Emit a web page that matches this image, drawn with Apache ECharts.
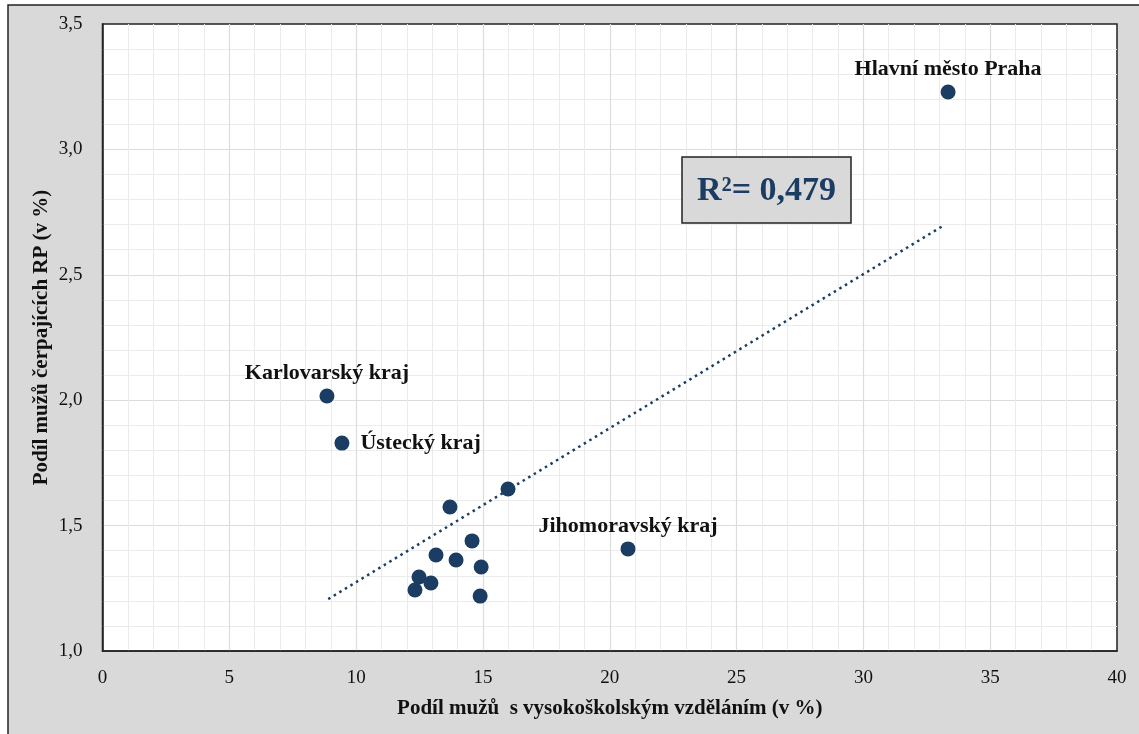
<!DOCTYPE html>
<html>
<head>
<meta charset="utf-8">
<script src="https://cdn.jsdelivr.net/npm/echarts@6/dist/echarts.min.js"></script>
<style>
  html, body { margin: 0; padding: 0; background: #fff; }
  #chart { width: 1139px; height: 734px; }
</style>
</head>
<body>
<div id="chart"></div>
<script>
// podíl mužů s VŠ vzděláním (x) a podíl mužů čerpajících RP (y) podle krajů
const regionNames = ['Hlavní město Praha', 'Karlovarský kraj', 'Ústecký kraj', '', '', '', 'Jihomoravský kraj', '', '', '', '', '', '', '']
const shareUni = [33.34, 8.85, 9.44, 15.99, 13.70, 14.57, 20.72, 13.15, 13.94, 14.93, 12.48, 12.95, 12.32, 14.89]
const shareRP = [3.229, 2.017, 1.829, 1.646, 1.574, 1.439, 1.407, 1.383, 1.363, 1.335, 1.295, 1.271, 1.243, 1.219]
const labelPos = ['top', 'top', 'right', '', '', '', 'top', '', '', '', '', '', '', '']
// lineární trend (konce čáry)
const trendX = [8.9, 33.2]
const trendY = [1.207, 2.699]
const rSquared = '0,479'

const serif = '"Liberation Serif", "DejaVu Serif", serif'
const navy = '#1b3c63'

const pointData = shareUni.map((x, i) => ({
  value: [x, shareRP[i]],
  label: {
    show: regionNames[i] !== '',
    formatter: regionNames[i],
    position: labelPos[i] || 'top',
    distance: labelPos[i] === 'right' ? 11 : 4
  }
}))

const chart = echarts.init(document.getElementById('chart'))
chart.setOption({
  animation: false,
  graphic: [
    {
      type: 'rect',
      z: -10,
      shape: { x: 8, y: 5, width: 1140, height: 740 },
      style: { fill: '#d9d9d9', stroke: '#222', lineWidth: 1.5 }
    },
    {
      type: 'rect',
      z: 100,
      shape: { x: 682, y: 157, width: 169, height: 66 },
      style: { fill: '#d9d9d9', stroke: '#222', lineWidth: 1.5 }
    },
    {
      type: 'text',
      z: 101,
      x: 766.5,
      y: 191,
      style: {
        text: 'R²= ' + rSquared,
        align: 'center',
        verticalAlign: 'middle',
        font: 'bold 34px ' + serif,
        fill: navy
      }
    }
  ],
  grid: {
    left: 102.5,
    right: 22,
    top: 24,
    bottom: 83,
    show: true,
    backgroundColor: '#fff',
    borderColor: '#222',
    borderWidth: 1.5,
    z: 0
  },
  xAxis: {
    type: 'value',
    min: 0,
    max: 40,
    interval: 5,
    name: 'Podíl mužů  s vysokoškolským vzděláním (v %)',
    nameLocation: 'middle',
    nameGap: 47,
    nameTextStyle: { fontFamily: serif, fontWeight: 'bold', fontSize: 21, color: '#111' },
    axisLine: { show: true, lineStyle: { color: '#222', width: 1.5 } },
    axisTick: { show: false },
    axisLabel: { fontFamily: serif, fontSize: 19, color: '#111', margin: 18 },
    splitLine: { showMinLine: false, showMaxLine: false, lineStyle: { color: '#dcdcdc', width: 1.2 } },
    minorTick: { show: false, splitNumber: 5 },
    minorSplitLine: { show: true, lineStyle: { color: '#ebebeb', width: 1 } }
  },
  yAxis: {
    type: 'value',
    min: 1.0,
    max: 3.5,
    interval: 0.5,
    name: 'Podíl mužů čerpajících RP (v %)',
    nameLocation: 'middle',
    nameGap: 50,
    nameMoveOverlap: false,
    nameTextStyle: { fontFamily: serif, fontWeight: 'bold', fontSize: 21, color: '#111' },
    axisLine: { show: true, lineStyle: { color: '#222', width: 1.5 } },
    axisTick: { show: false },
    axisLabel: {
      fontFamily: serif,
      fontSize: 19,
      color: '#111',
      margin: 20,
      formatter: v => v.toFixed(1).replace('.', ',')
    },
    splitLine: { showMinLine: false, showMaxLine: false, lineStyle: { color: '#dcdcdc', width: 1.2 } },
    minorTick: { show: false, splitNumber: 5 },
    minorSplitLine: { show: true, lineStyle: { color: '#ebebeb', width: 1 } }
  },
  series: [
    {
      name: 'trend',
      type: 'line',
      data: trendX.map((x, i) => [x, trendY[i]]),
      showSymbol: false,
      lineStyle: { color: navy, width: 2.5, type: [2.5, 4] },
      z: 2
    },
    {
      name: 'kraje',
      type: 'scatter',
      symbolSize: 15,
      itemStyle: { color: navy, opacity: 1 },
      label: {
        fontFamily: serif,
        fontWeight: 'bold',
        fontSize: 22,
        color: '#111'
      },
      data: pointData,
      z: 3
    }
  ]
})
</script>
</body>
</html>
